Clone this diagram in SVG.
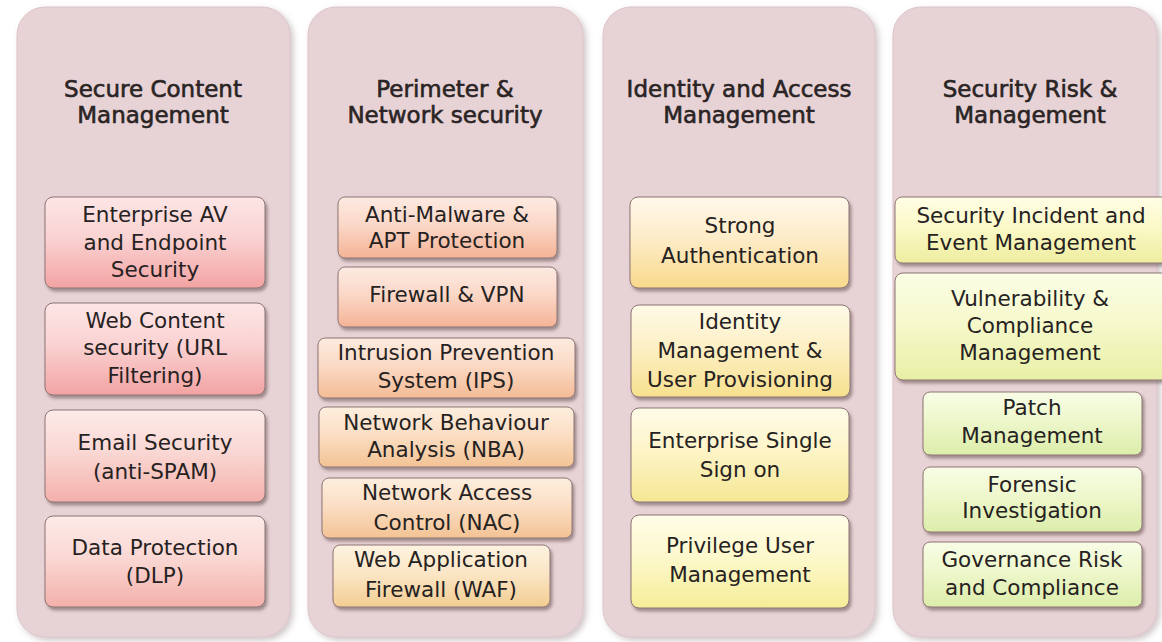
<svg xmlns="http://www.w3.org/2000/svg" width="1162" height="642" viewBox="0 0 1162 642">
<style>
.panel{fill:#e7d2d5;stroke:#dcc4c8;stroke-width:1;filter:url(#ps)}
.box{stroke:#8c7474;stroke-width:1;filter:url(#bs)}
.t{font-family:"DejaVu Sans",sans-serif;font-size:21.5px;fill:#262222;text-anchor:middle}
.h{font-family:"DejaVu Sans",sans-serif;font-size:23px;fill:#2a2424;stroke:#2a2424;stroke-width:0.6;text-anchor:middle}
</style>
<defs>
<filter id="ps" x="-10%" y="-5%" width="125%" height="115%"><feDropShadow dx="3" dy="3" stdDeviation="3" flood-color="#7a6064" flood-opacity="0.35"/></filter>
<filter id="bs" x="-10%" y="-20%" width="125%" height="150%"><feDropShadow dx="2" dy="3" stdDeviation="1.6" flood-color="#4a3030" flood-opacity="0.45"/></filter>
<linearGradient id="c1" x1="0" y1="0" x2="0" y2="1"><stop offset="0" stop-color="#fde6e6"/><stop offset="0.45" stop-color="#fad2d2"/><stop offset="1" stop-color="#f3a3a3"/></linearGradient>
<linearGradient id="c1b" x1="0" y1="0" x2="0" y2="1"><stop offset="0" stop-color="#fdeae8"/><stop offset="0.45" stop-color="#fad8d4"/><stop offset="1" stop-color="#f4b0aa"/></linearGradient>
<linearGradient id="c2a" x1="0" y1="0" x2="0" y2="1"><stop offset="0" stop-color="#fdeae2"/><stop offset="0.45" stop-color="#fbd8c8"/><stop offset="1" stop-color="#f4b396"/></linearGradient>
<linearGradient id="c2b" x1="0" y1="0" x2="0" y2="1"><stop offset="0" stop-color="#fdebdf"/><stop offset="0.45" stop-color="#fbdac6"/><stop offset="1" stop-color="#f4bb95"/></linearGradient>
<linearGradient id="c2c" x1="0" y1="0" x2="0" y2="1"><stop offset="0" stop-color="#fdeede"/><stop offset="0.45" stop-color="#fbdfc5"/><stop offset="1" stop-color="#f3c394"/></linearGradient>
<linearGradient id="c2d" x1="0" y1="0" x2="0" y2="1"><stop offset="0" stop-color="#fdf3e0"/><stop offset="0.45" stop-color="#fbe6c6"/><stop offset="1" stop-color="#f3cd92"/></linearGradient>
<linearGradient id="c3a" x1="0" y1="0" x2="0" y2="1"><stop offset="0" stop-color="#fff8ea"/><stop offset="0.45" stop-color="#fdecc8"/><stop offset="1" stop-color="#f8d98c"/></linearGradient>
<linearGradient id="c3b" x1="0" y1="0" x2="0" y2="1"><stop offset="0" stop-color="#fffae8"/><stop offset="0.45" stop-color="#fdf0c6"/><stop offset="1" stop-color="#f7e08e"/></linearGradient>
<linearGradient id="c3c" x1="0" y1="0" x2="0" y2="1"><stop offset="0" stop-color="#fffce8"/><stop offset="0.45" stop-color="#fdf4c8"/><stop offset="1" stop-color="#f6e794"/></linearGradient>
<linearGradient id="c3d" x1="0" y1="0" x2="0" y2="1"><stop offset="0" stop-color="#fffde9"/><stop offset="0.45" stop-color="#fdf8cc"/><stop offset="1" stop-color="#f5ed98"/></linearGradient>
<linearGradient id="c4a" x1="0" y1="0" x2="0" y2="1"><stop offset="0" stop-color="#fffee6"/><stop offset="0.45" stop-color="#fbf9c8"/><stop offset="1" stop-color="#eeeda0"/></linearGradient>
<linearGradient id="c4b" x1="0" y1="0" x2="0" y2="1"><stop offset="0" stop-color="#fcfee6"/><stop offset="0.45" stop-color="#f6f9cc"/><stop offset="1" stop-color="#e8efa6"/></linearGradient>
<linearGradient id="c4c" x1="0" y1="0" x2="0" y2="1"><stop offset="0" stop-color="#f8fde6"/><stop offset="0.45" stop-color="#eef7cc"/><stop offset="1" stop-color="#dcedaa"/></linearGradient>
</defs>
<rect width="1162" height="642" fill="#ffffff"/>

<g id="col1">
<rect class="panel" x="17" y="7" width="273" height="630" rx="28"/>
<text class="h" x="153" y="97">Secure Content</text>
<text class="h" x="153" y="123">Management</text>
</g>
<g id="col2">
<rect class="panel" x="308" y="7" width="275" height="630" rx="28"/>
<text class="h" x="445" y="97">Perimeter &amp;</text>
<text class="h" x="445" y="123">Network security</text>
</g>
<g id="col3">
<rect class="panel" x="603" y="7" width="272" height="630" rx="28"/>
<text class="h" x="739" y="97">Identity and Access</text>
<text class="h" x="739" y="123">Management</text>
</g>
<g id="col4">
<rect class="panel" x="893" y="7" width="264" height="630" rx="28"/>
<text class="h" x="1030" y="97">Security Risk &amp;</text>
<text class="h" x="1030" y="123">Management</text>
</g>

<g id="n-av"><rect class="box" x="45" y="197" width="220" height="91" rx="8" fill="url(#c1)"/>
<text class="t" x="155" y="222">Enterprise AV</text><text class="t" x="155" y="250">and Endpoint</text><text class="t" x="155" y="277">Security</text></g>
<g id="n-web"><rect class="box" x="45" y="303" width="220" height="92" rx="8" fill="url(#c1)"/>
<text class="t" x="155" y="328">Web Content</text><text class="t" x="155" y="355">security (URL</text><text class="t" x="155" y="383">Filtering)</text></g>
<g id="n-email"><rect class="box" x="45" y="410" width="220" height="92" rx="8" fill="url(#c1b)"/>
<text class="t" x="155" y="450">Email Security</text><text class="t" x="155" y="479">(anti-SPAM)</text></g>
<g id="n-dlp"><rect class="box" x="45" y="516" width="220" height="91" rx="8" fill="url(#c1b)"/>
<text class="t" x="155" y="555">Data Protection</text><text class="t" x="155" y="583">(DLP)</text></g>

<g id="n-apt"><rect class="box" x="338" y="197" width="219" height="61" rx="7" fill="url(#c2a)"/>
<text class="t" x="447" y="222">Anti-Malware &amp;</text><text class="t" x="447" y="248">APT Protection</text></g>
<g id="n-fw"><rect class="box" x="338" y="267" width="219" height="60" rx="7" fill="url(#c2a)"/>
<text class="t" x="447" y="302">Firewall &amp; VPN</text></g>
<g id="n-ips"><rect class="box" x="318" y="338" width="257" height="60" rx="7" fill="url(#c2b)"/>
<text class="t" x="446" y="360">Intrusion Prevention</text><text class="t" x="446" y="388">System (IPS)</text></g>
<g id="n-nba"><rect class="box" x="319" y="407" width="255" height="60" rx="7" fill="url(#c2c)"/>
<text class="t" x="446" y="430">Network Behaviour</text><text class="t" x="446" y="457">Analysis (NBA)</text></g>
<g id="n-nac"><rect class="box" x="322" y="478" width="250" height="60" rx="7" fill="url(#c2c)"/>
<text class="t" x="447" y="500">Network Access</text><text class="t" x="447" y="530">Control (NAC)</text></g>
<g id="n-waf"><rect class="box" x="333" y="545" width="217" height="62" rx="7" fill="url(#c2d)"/>
<text class="t" x="441" y="567">Web Application</text><text class="t" x="441" y="597">Firewall (WAF)</text></g>

<g id="n-strong"><rect class="box" x="630" y="197" width="219" height="91" rx="8" fill="url(#c3a)"/>
<text class="t" x="740" y="233">Strong</text><text class="t" x="740" y="263">Authentication</text></g>
<g id="n-idm"><rect class="box" x="631" y="305" width="219" height="92" rx="8" fill="url(#c3b)"/>
<text class="t" x="740" y="329">Identity</text><text class="t" x="740" y="358">Management &amp;</text><text class="t" x="740" y="387">User Provisioning</text></g>
<g id="n-sso"><rect class="box" x="631" y="408" width="218" height="94" rx="8" fill="url(#c3c)"/>
<text class="t" x="740" y="448">Enterprise Single</text><text class="t" x="740" y="477">Sign on</text></g>
<g id="n-pum"><rect class="box" x="631" y="515" width="218" height="93" rx="8" fill="url(#c3d)"/>
<text class="t" x="740" y="553">Privilege User</text><text class="t" x="740" y="582">Management</text></g>

<g id="n-siem"><rect class="box" x="895" y="197" width="275" height="66" rx="7" fill="url(#c4a)"/>
<text class="t" x="1031" y="223">Security Incident and</text><text class="t" x="1031" y="250">Event Management</text></g>
<g id="n-vuln"><rect class="box" x="895" y="273" width="275" height="107" rx="8" fill="url(#c4b)"/>
<text class="t" x="1030" y="306">Vulnerability &amp;</text><text class="t" x="1030" y="333">Compliance</text><text class="t" x="1030" y="360">Management</text></g>
<g id="n-patch"><rect class="box" x="923" y="392" width="219" height="63" rx="7" fill="url(#c4c)"/>
<text class="t" x="1032" y="415">Patch</text><text class="t" x="1032" y="443">Management</text></g>
<g id="n-forensic"><rect class="box" x="923" y="467" width="219" height="65" rx="7" fill="url(#c4c)"/>
<text class="t" x="1032" y="492">Forensic</text><text class="t" x="1032" y="518">Investigation</text></g>
<g id="n-grc"><rect class="box" x="923" y="542" width="219" height="65" rx="7" fill="url(#c4c)"/>
<text class="t" x="1032" y="567">Governance Risk</text><text class="t" x="1032" y="595">and Compliance</text></g>

<g id="connectors"></g>
</svg>
